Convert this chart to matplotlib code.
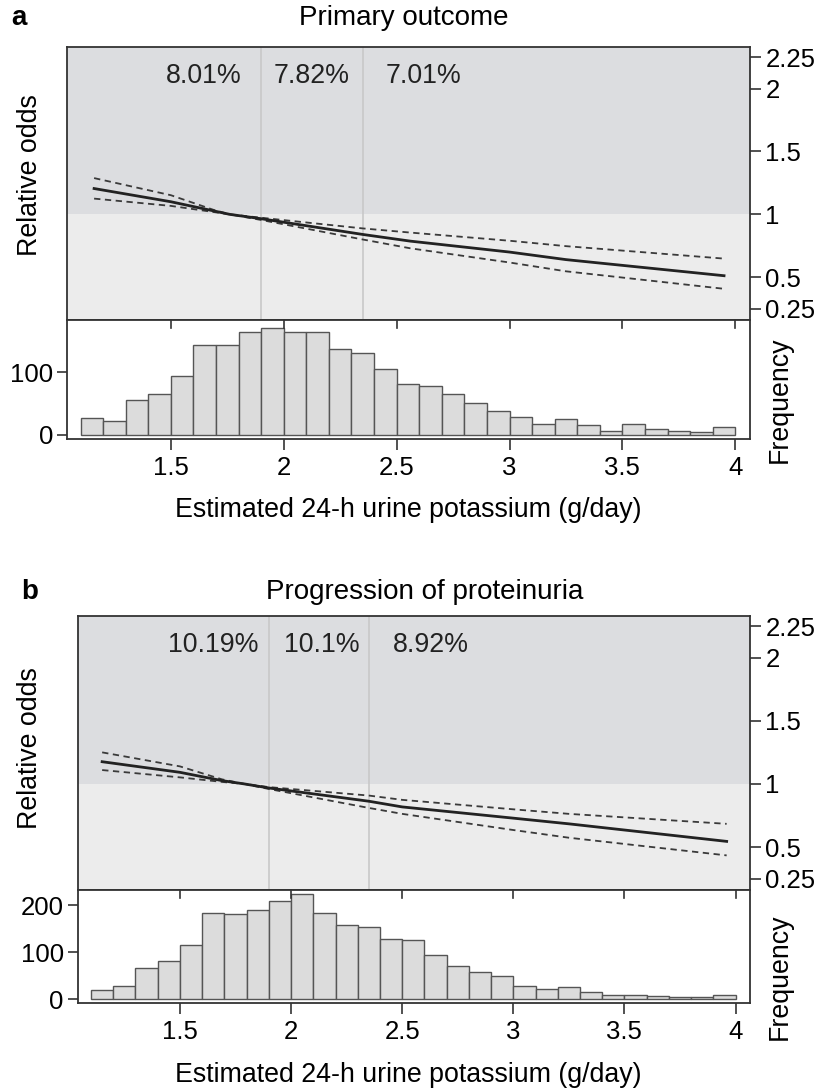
import matplotlib
matplotlib.use("Agg")
import matplotlib.pyplot as plt

plt.rcParams["font.family"] = ["Liberation Sans", "DejaVu Sans"]
plt.rcParams["font.size"] = 18.5

W, H = 825, 1092
LABEL_SIZE = 19.3

# histogram bins (left edges, width 0.1 g/day)
bin_left = [1.1, 1.2, 1.3, 1.4, 1.5, 1.6, 1.7, 1.8, 1.9, 2.0,
            2.1, 2.2, 2.3, 2.4, 2.5, 2.6, 2.7, 2.8, 2.9, 3.0,
            3.1, 3.2, 3.3, 3.4, 3.5, 3.6, 3.7, 3.8, 3.9]
counts_a = [27, 23, 56, 66, 95, 144, 144, 165, 171, 164,
            164, 138, 131, 105, 82, 79, 65, 51, 39, 29,
            17, 25, 16, 7, 17, 10, 7, 5, 13]
counts_b = [19, 29, 66, 82, 116, 184, 180, 190, 208, 224,
            183, 157, 153, 128, 125, 93, 70, 57, 49, 28,
            21, 26, 15, 8, 8, 7, 5, 5, 9]

# spline estimate with 95% CI
x_a = [1.16, 1.5, 1.69, 1.76, 1.9, 2.35, 2.56, 3.0, 3.25, 3.95]
odds_a = [1.205, 1.10, 1.027, 1.0, 0.965, 0.84, 0.787, 0.70, 0.64, 0.512]
upper_a = [1.288, 1.152, 1.035, 1.0, 0.973, 0.888, 0.855, 0.79, 0.747, 0.648]
lower_a = [1.125, 1.067, 1.018, 1.0, 0.955, 0.80, 0.73, 0.617, 0.547, 0.408]

x_b = [1.15, 1.5, 1.69, 1.79, 1.9, 2.35, 2.5, 3.0, 3.25, 3.96]
odds_b = [1.176, 1.092, 1.026, 1.0, 0.968, 0.863, 0.818, 0.729, 0.684, 0.545]
upper_b = [1.25, 1.139, 1.036, 1.0, 0.975, 0.908, 0.874, 0.799, 0.763, 0.684]
lower_b = [1.11, 1.052, 1.016, 1.0, 0.96, 0.81, 0.763, 0.635, 0.574, 0.434]

cutoffs = [1.9, 2.35]
pct_a = ["8.01%", "7.82%", "7.01%"]
pct_b = ["10.19%", "10.1%", "8.92%"]

odds_ticks = [0.25, 0.5, 1, 1.5, 2, 2.25]
odds_labels = ["0.25", "0.5", "1", "1.5", "2", "2.25"]
x_ticks = [1.5, 2, 2.5, 3, 3.5, 4]
x_labels = ["1.5", "2", "2.5", "3", "3.5", "4"]

XLIM = (1.04, 4.065)
EDGE = "#333333"


def box(left, right, top, bottom):
    return [left / W, 1 - bottom / H, (right - left) / W, (bottom - top) / H]


def draw_panel(fig, left, top, mid, bottom, x, odds, upper, lower, pcts,
               pct_x, counts, hist_top, freq_ticks):
    # relative odds panel
    ax = fig.add_axes(box(left, 750, top, mid))
    ax.set_xlim(*XLIM)
    ax.set_ylim(0.16, 2.33)
    ax.set_facecolor("#ececec")
    ax.axhspan(1, 2.33, color="#dcdde0", lw=0, zorder=0)
    for c in cutoffs:
        ax.axvline(c, color="#c6c6c6", lw=1.1, zorder=1)
    ax.plot(x, upper, color="#3a3a3a", lw=1.3, ls=(0, (3.5, 2.5)), zorder=3)
    ax.plot(x, lower, color="#3a3a3a", lw=1.3, ls=(0, (3.5, 2.5)), zorder=3)
    ax.plot(x, odds, color="#222222", lw=2.0, zorder=4)
    for px, t in zip(pct_x, pcts):
        ax.text(px, 2.1, t, ha="center", va="center", color="#222222",
                fontsize=LABEL_SIZE)
    ax.set_xticks([])
    ax.yaxis.tick_right()
    ax.set_yticks(odds_ticks)
    ax.set_yticklabels(odds_labels)
    ax.tick_params(axis="y", direction="out", length=8, width=1.2,
                   color=EDGE, pad=3)
    for s in ax.spines.values():
        s.set_color(EDGE)
        s.set_linewidth(1.3)

    # histogram panel
    hx = fig.add_axes(box(left, 750, mid, bottom))
    hx.bar(bin_left, counts, width=0.1, align="edge", color="#dcdcdc",
           edgecolor="#555555", lw=1.0)
    hx.set_xlim(*XLIM)
    hx.set_ylim(-hist_top * 0.035, hist_top)
    hx.set_xticks(x_ticks)
    hx.set_xticklabels(x_labels)
    hx.set_yticks(freq_ticks)
    hx.set_yticklabels([str(v) for v in freq_ticks])
    hx.tick_params(axis="x", direction="out", length=8, width=1.2,
                   color=EDGE, pad=4)
    hx.tick_params(axis="y", direction="out", length=7, width=1.2,
                   color=EDGE, pad=3)
    for s in hx.spines.values():
        s.set_color(EDGE)
        s.set_linewidth(1.3)
    # inward ticks along the top edge
    for t in x_ticks:
        hx.plot([t, t], [hist_top, hist_top * 0.93], color=EDGE, lw=1.2,
                clip_on=False, zorder=5)
    return ax, hx


fig = plt.figure(figsize=(W / 100, H / 100), dpi=100)

draw_panel(fig, 67, 47, 320, 439, x_a, odds_a, upper_a, lower_a, pct_a,
           [1.645, 2.125, 2.62], counts_a, 184, [0, 100])
draw_panel(fig, 77.7, 616, 890, 1003, x_b, odds_b, upper_b, lower_b, pct_b,
           [1.65, 2.14, 2.63], counts_b, 232, [0, 100, 200])

fig.text(19 / W, 1 - 18 / H, "a", fontweight="bold", fontsize=20,
         ha="center", va="center")
fig.text(30 / W, 1 - 592 / H, "b", fontweight="bold", fontsize=20,
         ha="center", va="center")
fig.text(404 / W, 1 - 18 / H, "Primary outcome", ha="center", va="center",
         fontsize=20)
fig.text(425 / W, 1 - 592 / H, "Progression of proteinuria",
         ha="center", va="center", fontsize=20)
for yc in (175, 748):
    fig.text(30 / W, 1 - yc / H, "Relative odds", rotation=90,
             ha="center", va="center", fontsize=LABEL_SIZE)
for yc in (400, 977):
    fig.text(780 / W, 1 - yc / H, "Frequency", rotation=90,
             ha="center", va="center", fontsize=LABEL_SIZE)
for yc in (510, 1075):
    fig.text(408 / W, 1 - yc / H, "Estimated 24-h urine potassium (g/day)",
             ha="center", va="center", fontsize=LABEL_SIZE)

fig.savefig("out.png", dpi=100, facecolor="white")
